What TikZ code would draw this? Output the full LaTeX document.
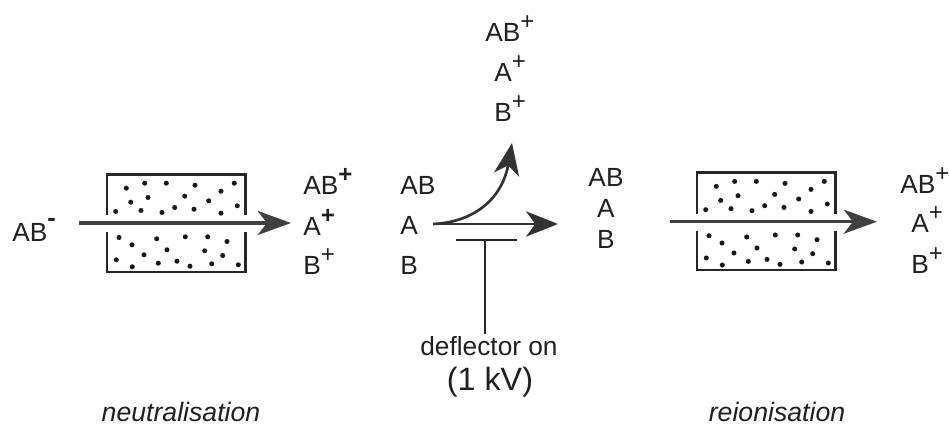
\documentclass[tikz,border=0pt]{standalone}
\usepackage{fontspec}
\setmainfont{Liberation Sans}
\usetikzlibrary{arrows.meta}
\newcommand{\supr}[1]{\raisebox{9.5pt}{\fontsize{18}{18}\selectfont #1}}
\newcommand{\supm}[1]{\raisebox{11.5pt}{\fontsize{19}{19}\selectfont #1}}
\tikzset{
  lab/.style={inner sep=0pt,font=\fontsize{19.7}{22}\selectfont,text=black!88},
  lbl/.style={lab,anchor=base west},
  lblc/.style={lab,anchor=base},
  ital/.style={lab,anchor=base,font=\fontsize{20}{22}\selectfont\itshape},
  wall/.style={draw=black!85,line width=1.9pt},
  beam/.style={draw=black!75,line width=2.4pt,-{Stealth[length=25pt,width=18pt,inset=7pt]}},
  thinbeam/.style={draw=black!80,line width=2pt,-{Stealth[length=24pt,width=19pt,inset=7pt]}},
  bar/.style={draw=black!85,line width=1.8pt},
  gasdot/.style={fill=black!90,draw=none},
}
\newcommand{\gascell}[1]{%
  \begin{scope}[shift={(#1)}]
    \draw[wall] (0,41) -- (0,0) -- (138.5,0) -- (138.5,41);
    \draw[wall] (0,58) -- (0,97.5) -- (138.5,97.5) -- (138.5,58);
    \foreach \p in {(19.3,13.7),(37.7,8.7),(59.3,8.7),(88,10.7),(127.3,8.7),(114,16.7),(77.7,21.7),(101.7,26.3),(41,23),(23.7,27.7),(8.7,37),(34,36),(55,38),(67.7,33),(87,34.7),(114,38.7),(130.3,31.3),(12,63),(25,70.3),(49.7,64.3),(78.3,62.3),(100.7,62.3),(120,67),(60,75.3),(97.7,76.3),(115.7,81),(37,80.3),(9.3,85.3),(25.3,92.3),(51.3,88.7),(70,86.7),(83,91.7),(104.7,89.3),(131.3,90.3)}
      \fill[gasdot] \p circle (1.9pt);
  \end{scope}}
\begin{document}
\begin{tikzpicture}[x=0.75pt,y=-0.75pt]
\useasboundingbox (0,0) rectangle (949,427);
% first cell
\gascell{107,174.5}
\coordinate (n1s) at (79,223);
\coordinate (n1e) at (291,223);
\draw[beam] (n1s) -- (n1e);
\node[lbl] (abm) at (12,242) {AB\supm{\textbf{-}}};
\node[lbl] (p1) at (303,195) {AB\supr{\textbf{+}}};
\node[lbl] (p2) at (303,236) {A\supr{\textbf{+}}};
\node[lbl] (p3) at (303,275) {B\supr{+}};
% deflector
\node[lbl] (m1) at (400,195) {AB};
\node[lbl] (m2) at (400,235) {A};
\node[lbl] (m3) at (400,275) {B};
\coordinate (ds) at (433,224);
\coordinate (de) at (558,224);
\coordinate (up) at (512,143);
\draw[thinbeam] (ds) -- (de);
\draw[thinbeam] (ds) .. controls (478,222) and (503,195) .. (up);
\coordinate (pl) at (456,240);
\coordinate (pr) at (517,240);
\coordinate (pm) at (485,240);
\draw[bar] (pl) -- (pr);
\node[lblc] (defl) at (489,355) {deflector on};
\node[lblc,font=\fontsize{24.2}{26}\selectfont] (kv) at (490,391) {(1 kV)};
\draw[bar] (pm) -- (485,334);
% deflected products
\node[lbl] (u1) at (485,42) {AB\supr{+}};
\node[lbl] (u2) at (494,82) {A\supr{+}};
\node[lbl] (u3) at (494,122) {B\supr{+}};
\node[lblc] (c1) at (606,187) {AB};
\node[lblc] (c2) at (606,218) {A};
\node[lblc] (c3) at (606,249) {B};
% second cell
\gascell{697,172.7}
\coordinate (n2s) at (670,221.7);
\coordinate (n2e) at (877,221.7);
\draw[beam] (n2s) -- (n2e);
\node[lbl] (r1) at (900,194) {AB\supr{+}};
\node[lbl] (r2) at (911,233) {A\supr{+}};
\node[lbl] (r3) at (911,274) {B\supr{+}};
% captions
\node[ital] (neu) at (181,421) {neutralisation};
\node[ital] (rei) at (777,421) {reionisation};
\end{tikzpicture}
\end{document}
